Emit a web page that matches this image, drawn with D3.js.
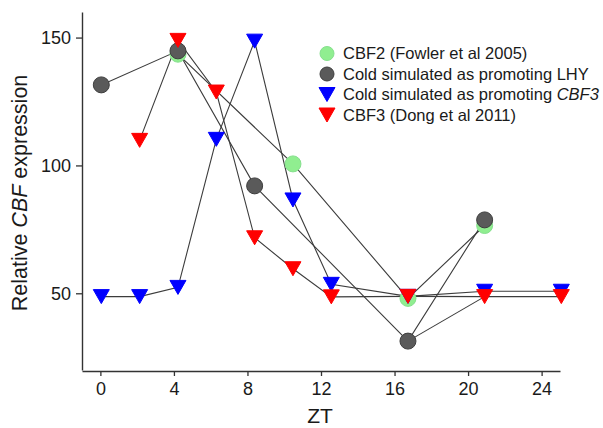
<!DOCTYPE html>
<html>
<head>
<meta charset="utf-8">
<script src="https://cdn.jsdelivr.net/npm/d3@7/dist/d3.min.js"></script>
<style>
  body { margin: 0; background: #fff; }
  svg { display: block; font-family: "Liberation Sans", Arial, sans-serif; }
</style>
</head>
<body>
<svg id="chart" width="603" height="428"></svg>
<script>
// sampling times (ZT, hours)
const zt = [0, 2, 4, 6, 8, 10, 12, 16, 20, 24];

// relative CBF expression, null = no point at that time
const fowlerCBF2 = [null, null, 143.5, null, null, 100.6, null, 48, 76.5, null];
const lhyModel   = [131.5, null, 144.8, null, 92, null, null, 31.3, 78.7, null];
const cbf3Model  = [48.7, 48.7, 52.3, 110.2, 148.6, 86.5, 53.5, 48.8, 50.8, 50.8];
const dongCBF3   = [null, 109.8, 148.9, 128.7, 71.7, 59.6, 48.6, 48.8, 48.7, 48.7];

// one extra connector that leaves the LHY curve at ZT16
const branchZt = [16, 20];
const branchVal = [31.3, 48.7];

const xTicks = [0, 4, 8, 12, 16, 20, 24];
const yTicks = [50, 100, 150];

const legendLabels = [
  ['CBF2 (Fowler et al 2005)'],
  ['Cold simulated as promoting LHY'],
  ['Cold simulated as promoting ', 'CBF3'],
  ['CBF3 (Dong et al 2011)']
];

const svg = d3.select('#chart');

// axis scale and the (slightly shifted) scale the points were plotted on
const x = d3.scaleLinear().domain([-1, 25]).range([82, 560]);
const xPts = d3.scaleLinear().domain([0, 24]).range([101.3, 561.3]);
const y = d3.scaleLinear().domain([20, 160]).range([370, 12]);

const series = [
  { vals: fowlerCBF2, shape: 'circle', fill: '#90ee90', stroke: '#86e08e' },
  { vals: lhyModel, shape: 'circle', fill: '#5a5a5a', stroke: '#3e3e3e' },
  { vals: cbf3Model, shape: 'tri', fill: '#0000ff', stroke: '#0000ff' },
  { vals: dongCBF3, shape: 'tri', fill: '#ff0000', stroke: '#ff0000' }
];

function pts(vals) {
  return zt.map((t, i) => [t, vals[i]]).filter(d => d[1] != null);
}

const line = d3.line()
  .x(d => xPts(d[0]))
  .y(d => y(d[1]));

// connecting lines
const lineG = svg.append('g')
  .attr('fill', 'none')
  .attr('stroke', '#3c3c3c')
  .attr('stroke-width', 1.1);

series.forEach(s => {
  lineG.append('path').attr('d', line(pts(s.vals)));
});
lineG.append('path').attr('d', line(branchZt.map((t, i) => [t, branchVal[i]])));

// axes
const xAxis = d3.axisBottom(x).tickValues(xTicks).tickSizeInner(5).tickSizeOuter(0).tickPadding(6);
const yAxis = d3.axisLeft(y).tickValues(yTicks).tickSizeInner(6).tickSizeOuter(0).tickPadding(5);

const gx = svg.append('g').attr('transform', 'translate(0,371)').call(xAxis);
const gy = svg.append('g').attr('transform', 'translate(82,0)').call(yAxis);

[gx, gy].forEach(g => {
  g.select('.domain').attr('stroke', '#333').attr('stroke-width', 1.4);
  g.selectAll('.tick line').attr('stroke', '#333').attr('stroke-width', 1.3);
  g.selectAll('.tick text')
    .attr('fill', '#1a1a1a')
    .style('font-size', '18px')
    .style('font-family', '"Liberation Sans", Arial, sans-serif');
});

// markers
const triPath = 'M-8,-7L8,-7L0,7Z';

function drawMarker(sel, shape, r) {
  if (shape === 'circle') {
    return sel.append('circle').attr('r', r);
  }
  return sel.append('path').attr('d', triPath);
}

series.forEach(s => {
  const g = svg.append('g');
  pts(s.vals).forEach(d => {
    const gg = g.append('g').attr('transform', `translate(${xPts(d[0])},${y(d[1])})`);
    drawMarker(gg, s.shape, 8)
      .attr('fill', s.fill)
      .attr('stroke', s.stroke)
      .attr('stroke-width', 1);
  });
});

// axis titles
svg.append('text')
  .attr('x', 320)
  .attr('y', 423)
  .attr('text-anchor', 'middle')
  .attr('fill', '#1a1a1a')
  .style('font-size', '21px')
  .text('ZT');

const yl = svg.append('text')
  .attr('transform', 'translate(26.5,193) rotate(-90)')
  .attr('text-anchor', 'middle')
  .attr('fill', '#1a1a1a')
  .style('font-size', '21.5px');
yl.append('tspan').text('Relative ');
yl.append('tspan').style('font-style', 'italic').text('CBF');
yl.append('tspan').text(' expression');

// legend
const legend = svg.append('g');
const legY = d3.scaleLinear().domain([0, 3]).range([53.5, 115]);

series.forEach((s, i) => {
  const row = legend.append('g').attr('transform', `translate(327,${legY(i)})`);
  drawMarker(row, s.shape, 7)
    .attr('fill', s.fill)
    .attr('stroke', s.stroke)
    .attr('stroke-width', 1);
  const t = row.append('text')
    .attr('x', 16)
    .attr('dy', '0.36em')
    .attr('fill', '#1a1a1a')
    .style('font-size', '16.5px');
  legendLabels[i].forEach((part, k) => {
    t.append('tspan').style('font-style', k === 1 ? 'italic' : 'normal').text(part);
  });
});
</script>
</body>
</html>
